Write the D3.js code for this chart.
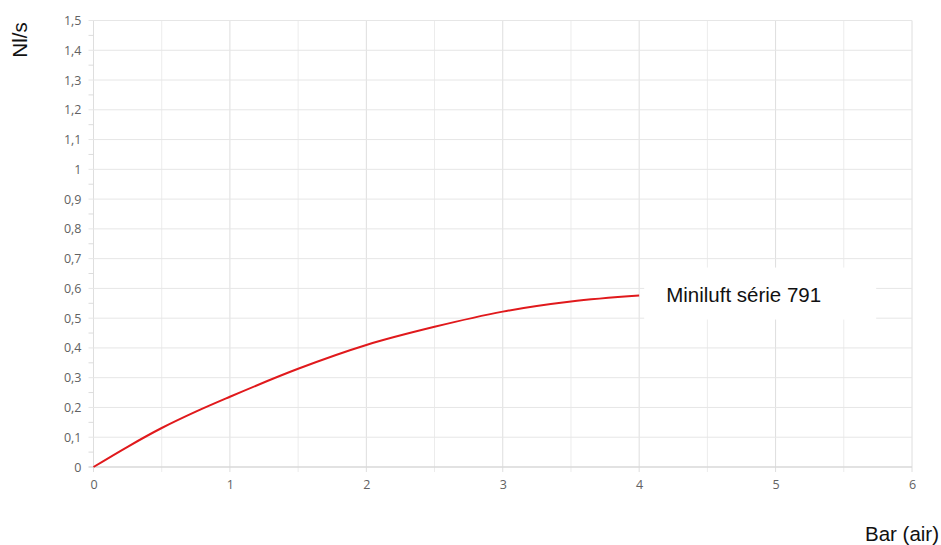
<!DOCTYPE html>
<html>
<head>
<meta charset="utf-8">
<script src="https://cdn.jsdelivr.net/npm/d3@7"></script>
<style>
  body { margin: 0; background: #fff; }
  svg { display: block; }
</style>
</head>
<body>
<div class="chart_area"></div>
<script>
// values
var pressure = [0, 0.25, 0.5, 0.75, 1, 1.5, 2, 2.5, 3, 3.5, 4];
var flow = [0, 0.068, 0.131, 0.186, 0.236, 0.330, 0.410, 0.471, 0.522, 0.556, 0.576];
var xTicks = [0, 1, 2, 3, 4, 5, 6];
var yTicks = [0, 0.1, 0.2, 0.3, 0.4, 0.5, 0.6, 0.7, 0.8, 0.9, 1, 1.1, 1.2, 1.3, 1.4, 1.5];
var seriesName = "Miniluft série 791";

var W = 941, H = 545;
var margin = { top: 20.5, right: 29, bottom: 78, left: 93.5 },
    width = W - margin.left - margin.right,
    height = H - margin.top - margin.bottom;

var svg = d3.select(".chart_area")
    .append("svg")
    .attr("width", W)
    .attr("height", H);

var g = svg.append("g")
    .attr("transform", "translate(" + margin.left + "," + margin.top + ")");

var x = d3.scaleLinear().domain([0, 6]).range([0, width]);
var y = d3.scaleLinear().domain([0, 1.5]).range([height, 0]);

var fmt = function (d) { return String(+d.toFixed(1)).replace(".", ","); };

// grid
var halfX = d3.range(0, 6.01, 0.5);
g.selectAll(".vgrid")
    .data(halfX)
    .enter()
    .append("line")
    .attr("x1", function (d) { return x(d); })
    .attr("x2", function (d) { return x(d); })
    .attr("y1", 0)
    .attr("y2", height + 5)
    .attr("stroke", function (d) { return d % 1 === 0 ? "#dedede" : "#ececec"; })
    .attr("stroke-width", 1);

g.selectAll(".hgrid")
    .data(yTicks)
    .enter()
    .append("line")
    .attr("x1", -5)
    .attr("x2", width)
    .attr("y1", function (d) { return y(d); })
    .attr("y2", function (d) { return y(d); })
    .attr("stroke", function (d) { return d === 0 ? "#d9d9d9" : "#e6e6e6"; })
    .attr("stroke-width", function (d) { return d === 0 ? 1.5 : 1; });

// minor ticks on y
g.selectAll(".yminor")
    .data(d3.range(0.05, 1.5, 0.1))
    .enter()
    .append("line")
    .attr("x1", -5)
    .attr("x2", 0)
    .attr("y1", function (d) { return y(d); })
    .attr("y2", function (d) { return y(d); })
    .attr("stroke", "#dcdcdc");

// axes (labels only)
var xAxis = g.append("g")
    .attr("transform", "translate(0," + height + ")")
    .call(d3.axisBottom(x).tickValues(xTicks).tickSize(0).tickPadding(13).tickFormat(fmt));

var yAxis = g.append("g")
    .call(d3.axisLeft(y).tickValues(yTicks).tickSize(0).tickPadding(12).tickFormat(fmt));

[xAxis, yAxis].forEach(function (a) {
    a.select(".domain").remove();
    a.selectAll("text")
        .style("fill", "#626262")
        .style("font-family", "'Open Sans', sans-serif")
        .style("font-size", "12.5px");
});

// curve
var line = d3.line()
    .x(function (d, i) { return x(pressure[i]); })
    .y(function (d) { return y(d); })
    .curve(d3.curveMonotoneX);

g.append("path")
    .datum(flow)
    .attr("d", line)
    .attr("fill", "none")
    .attr("stroke", "#e0191c")
    .attr("stroke-width", 2);

// series label on white box
var last = pressure.length - 1;
g.append("rect")
    .attr("x", x(pressure[last]) + 5)
    .attr("y", y(flow[last]) - 28)
    .attr("width", 232)
    .attr("height", 52)
    .attr("fill", "#fff");

g.append("text")
    .attr("x", x(pressure[last]) + 27)
    .attr("y", y(flow[last]) + 6)
    .style("font-family", "'Liberation Sans', Arial, sans-serif")
    .style("font-size", "20.5px")
    .style("fill", "#111")
    .text(seriesName);

// axis titles
svg.append("text")
    .attr("transform", "translate(27,40)rotate(-90)")
    .attr("text-anchor", "middle")
    .style("font-family", "'Liberation Sans', Arial, sans-serif")
    .style("font-size", "20.5px")
    .style("fill", "#111")
    .text("Nl/s");

svg.append("text")
    .attr("x", 939)
    .attr("y", 541)
    .attr("text-anchor", "end")
    .style("font-family", "'Liberation Sans', Arial, sans-serif")
    .style("font-size", "20.5px")
    .style("fill", "#111")
    .text("Bar (air)");
</script>
</body>
</html>
